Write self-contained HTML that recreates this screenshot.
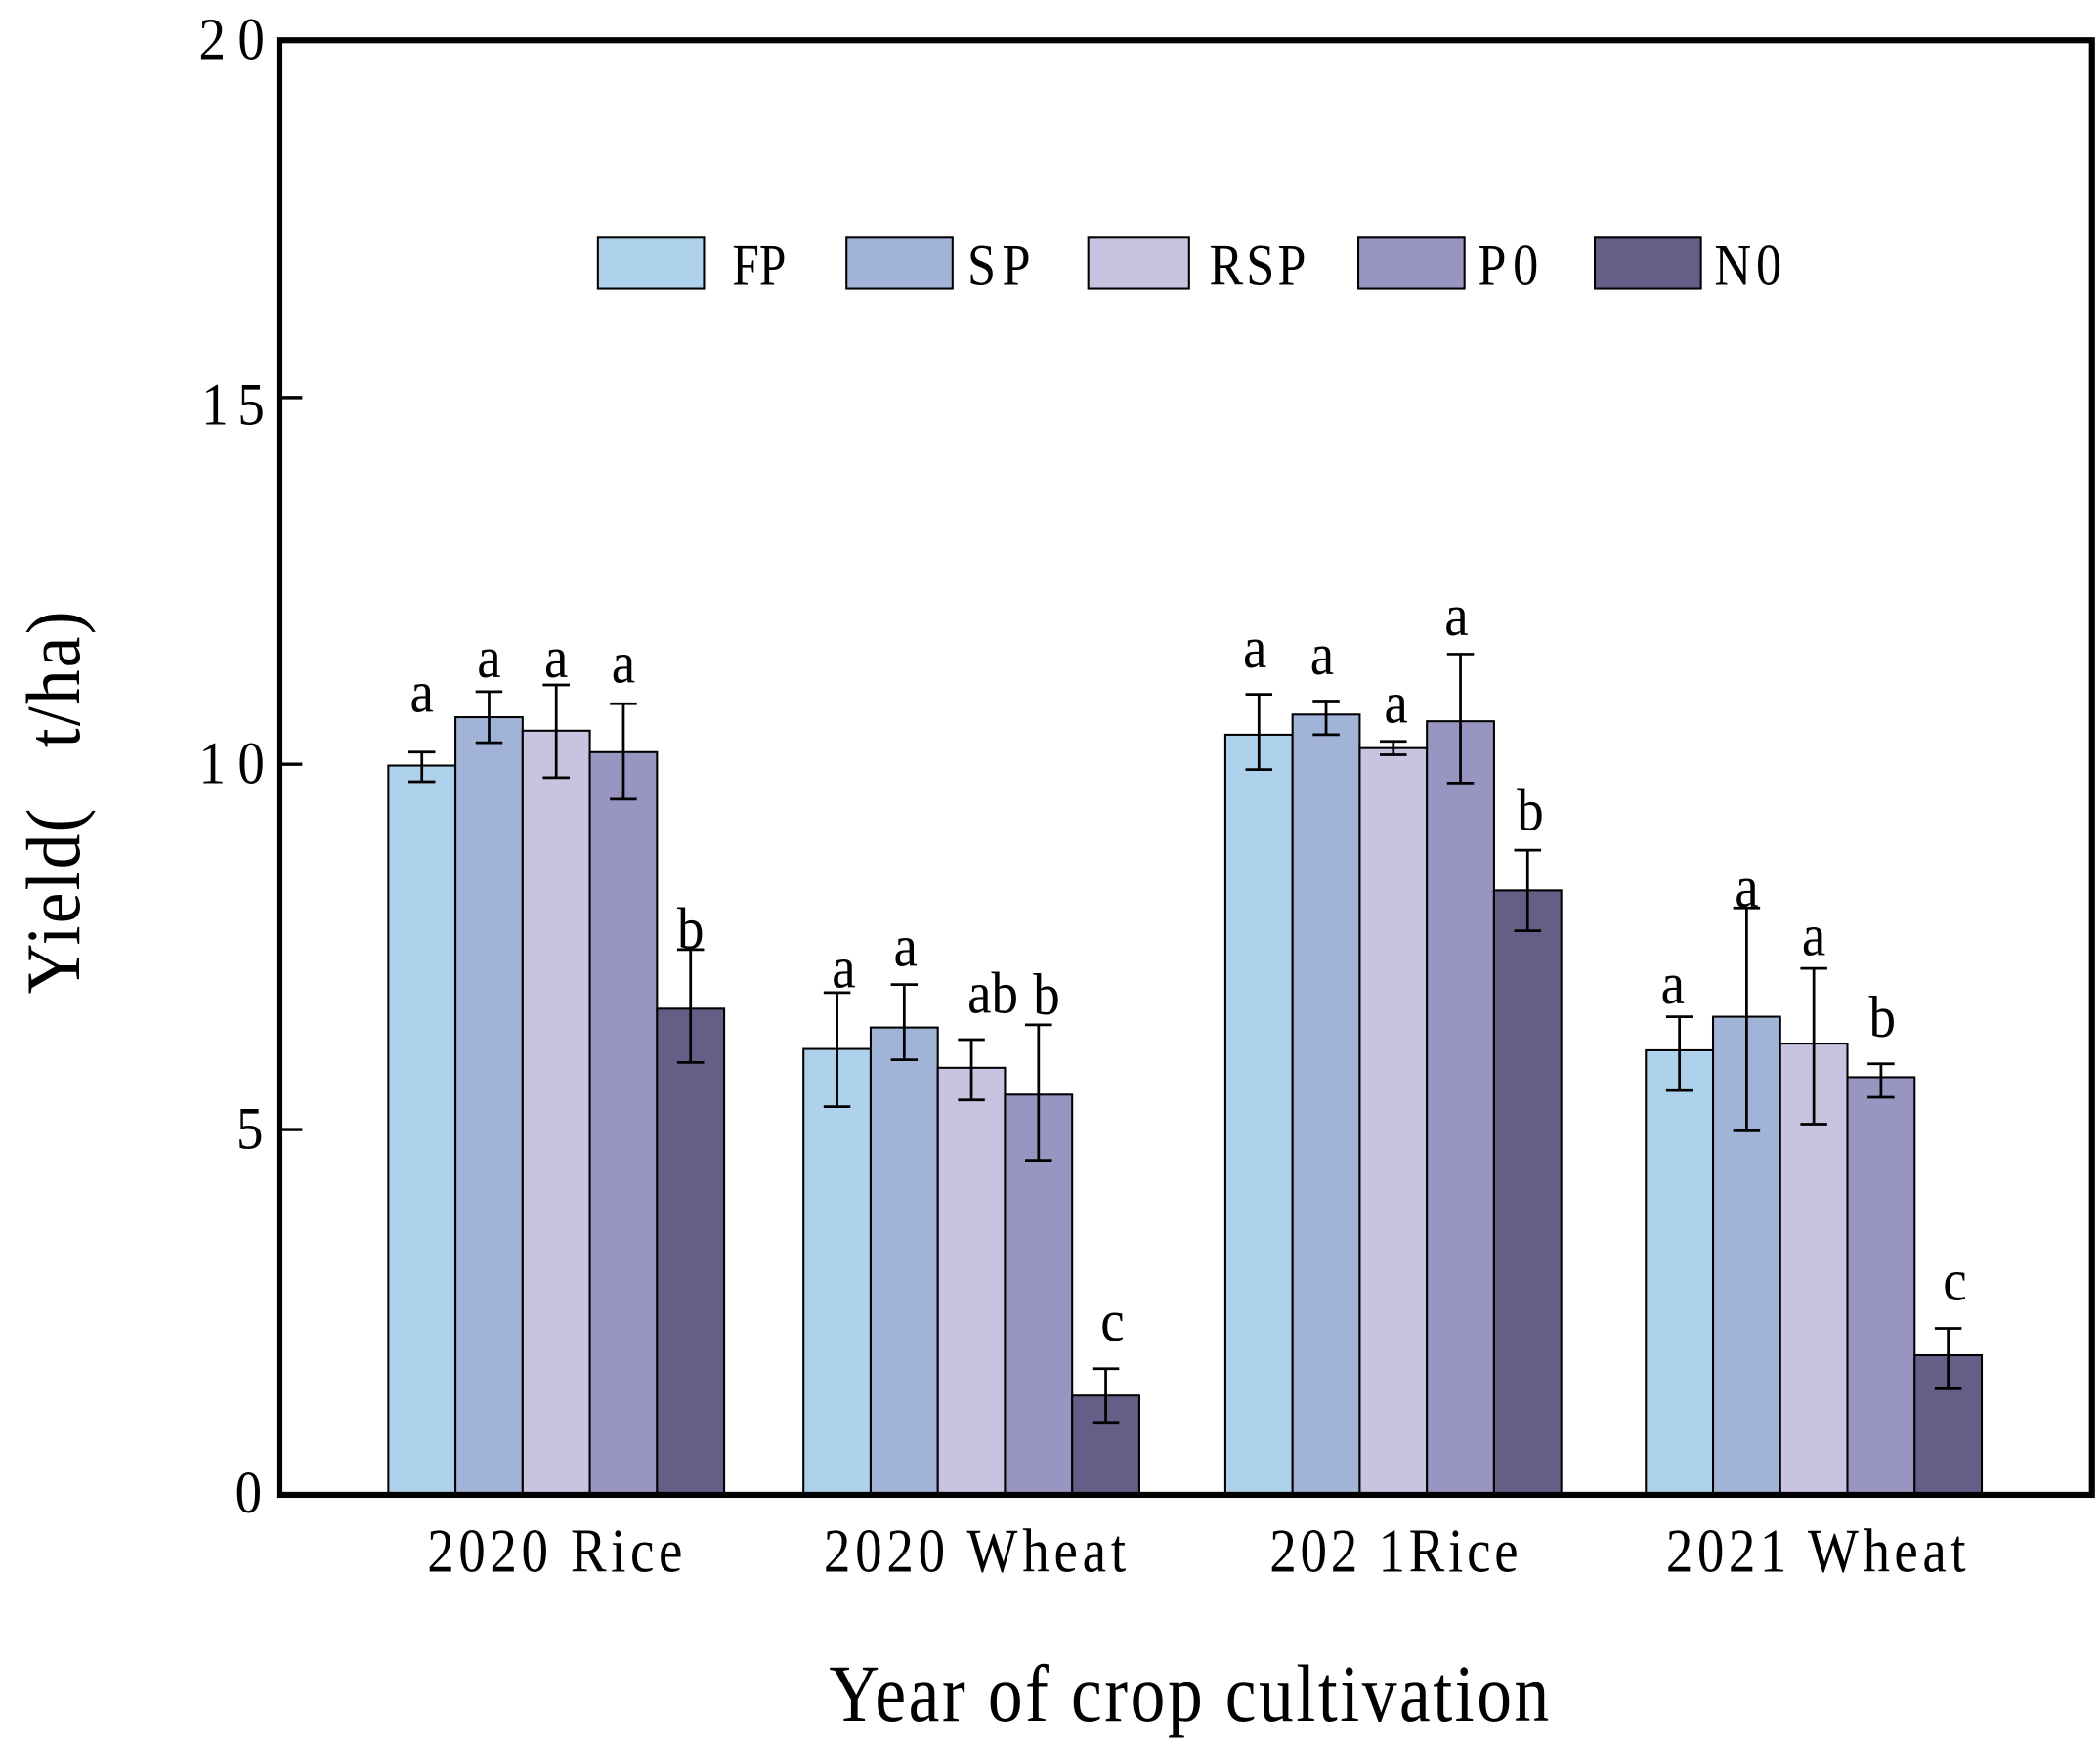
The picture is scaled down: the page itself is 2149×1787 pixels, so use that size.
<!DOCTYPE html>
<html><head><meta charset="utf-8"><style>
html,body{margin:0;padding:0;background:#fff;}
svg{display:block;}
text{font-family:"Liberation Serif","Times New Roman",serif;fill:#000;}
</style></head><body>
<svg xmlns="http://www.w3.org/2000/svg" width="2149" height="1787" viewBox="0 0 1563 1300" preserveAspectRatio="none">
<rect x="0" y="0" width="1563" height="1300" fill="#fff"/>
<!-- legend -->
<g stroke="#000" stroke-width="1.5">
<rect x="445" y="177" width="79" height="38" fill="#AFD2EC"/>
<rect x="630" y="177" width="79" height="38" fill="#A1B4D8"/>
<rect x="810" y="177" width="75" height="38" fill="#C7C3E0"/>
<rect x="1011" y="177" width="79" height="38" fill="#9896C0"/>
<rect x="1187" y="177" width="79" height="38" fill="#655F88"/>
</g>
<g font-size="38">
<text transform="translate(545,212) scale(1,1.15)" textLength="40" lengthAdjust="spacingAndGlyphs">FP</text>
<text transform="translate(720,212) scale(1,1.15)" textLength="47" lengthAdjust="spacing">SP</text>
<text transform="translate(900,212) scale(1,1.15)" textLength="72" lengthAdjust="spacing">RSP</text>
<text transform="translate(1100,212) scale(1,1.15)" textLength="45" lengthAdjust="spacing">P0</text>
<text transform="translate(1276,212) scale(1,1.15)" textLength="50" lengthAdjust="spacing">N0</text>
</g>
<!-- bars -->
<g stroke="#000" stroke-width="1.5">
<rect x="289" y="570" width="50" height="543" fill="#AFD2EC"/>
<rect x="339" y="534" width="50" height="579" fill="#A1B4D8"/>
<rect x="389" y="544" width="50" height="569" fill="#C7C3E0"/>
<rect x="439" y="560" width="50" height="553" fill="#9896C0"/>
<rect x="489" y="751" width="50" height="362" fill="#655F88"/>

<rect x="598" y="781" width="50" height="332" fill="#AFD2EC"/>
<rect x="648" y="765" width="50" height="348" fill="#A1B4D8"/>
<rect x="698" y="795" width="50" height="318" fill="#C7C3E0"/>
<rect x="748" y="815" width="50" height="298" fill="#9896C0"/>
<rect x="798" y="1039" width="50" height="74" fill="#655F88"/>

<rect x="912" y="547" width="50" height="566" fill="#AFD2EC"/>
<rect x="962" y="532" width="50" height="581" fill="#A1B4D8"/>
<rect x="1012" y="557" width="50" height="556" fill="#C7C3E0"/>
<rect x="1062" y="537" width="50" height="576" fill="#9896C0"/>
<rect x="1112" y="663" width="50" height="450" fill="#655F88"/>

<rect x="1225" y="782" width="50" height="331" fill="#AFD2EC"/>
<rect x="1275" y="757" width="50" height="356" fill="#A1B4D8"/>
<rect x="1325" y="777" width="50" height="336" fill="#C7C3E0"/>
<rect x="1375" y="802" width="50" height="311" fill="#9896C0"/>
<rect x="1425" y="1009" width="50" height="104" fill="#655F88"/>
</g>
<!-- error bars -->
<g stroke="#000" stroke-width="2" fill="none">
<path d="M314 560V582M304 560H324M304 582H324"/>
<path d="M364 515V553M354 515H374M354 553H374"/>
<path d="M414 510V579M404 510H424M404 579H424"/>
<path d="M464 524V595M454 524H474M454 595H474"/>
<path d="M514 707V791M504 707H524M504 791H524"/>

<path d="M623 739V824M613 739H633M613 824H633"/>
<path d="M673 733V789M663 733H683M663 789H683"/>
<path d="M723 774V819M713 774H733M713 819H733"/>
<path d="M773 763V864M763 763H783M763 864H783"/>
<path d="M823 1019V1059M813 1019H833M813 1059H833"/>

<path d="M937 517V573M927 517H947M927 573H947"/>
<path d="M987 522V547M977 522H997M977 547H997"/>
<path d="M1037 552V562M1027 552H1047M1027 562H1047"/>
<path d="M1087 487V583M1077 487H1097M1077 583H1097"/>
<path d="M1137 633V693M1127 633H1147M1127 693H1147"/>

<path d="M1250 757V812M1240 757H1260M1240 812H1260"/>
<path d="M1300 676V842M1290 676H1310M1290 842H1310"/>
<path d="M1350 721V837M1340 721H1360M1340 837H1360"/>
<path d="M1400 792V817M1390 792H1410M1390 817H1410"/>
<path d="M1450 989V1034M1440 989H1460M1440 1034H1460"/>
</g>
<!-- significance letters -->
<g font-size="40" text-anchor="middle">
<text transform="translate(314,530) scale(1,1.1)">a</text>
<text transform="translate(364,504) scale(1,1.1)">a</text>
<text transform="translate(414,504) scale(1,1.1)">a</text>
<text transform="translate(464,508) scale(1,1.1)">a</text>
<text transform="translate(514,706) scale(1,1.1)">b</text>

<text transform="translate(628,735) scale(1,1.1)">a</text>
<text transform="translate(674,719) scale(1,1.1)">a</text>
<text transform="translate(739,754) scale(1,1.1)">ab</text>
<text transform="translate(779,755) scale(1,1.1)">b</text>
<text transform="translate(828,998) scale(1,1.1)">c</text>

<text transform="translate(934,497) scale(1,1.1)">a</text>
<text transform="translate(984,502) scale(1,1.1)">a</text>
<text transform="translate(1039,538) scale(1,1.1)">a</text>
<text transform="translate(1084,473) scale(1,1.1)">a</text>
<text transform="translate(1139,618) scale(1,1.1)">b</text>

<text transform="translate(1245,747) scale(1,1.1)">a</text>
<text transform="translate(1300,675) scale(1,1.1)">a</text>
<text transform="translate(1350,711) scale(1,1.1)">a</text>
<text transform="translate(1401,772) scale(1,1.1)">b</text>
<text transform="translate(1455,968) scale(1,1.1)">c</text>
</g>
<!-- frame -->
<rect x="208" y="30" width="1349" height="1083" fill="none" stroke="#000" stroke-width="4.5"/>
<g stroke="#000" stroke-width="2.5">
<line x1="208" y1="296" x2="225" y2="296"/>
<line x1="208" y1="569" x2="225" y2="569"/>
<line x1="208" y1="841" x2="225" y2="841"/>
</g>
<!-- y tick labels -->
<g font-size="40">
<text transform="translate(148,44) scale(1,1.12)" textLength="49" lengthAdjust="spacing">20</text>
<text transform="translate(150,316) scale(1,1.12)" textLength="47" lengthAdjust="spacing">15</text>
<text transform="translate(148,583) scale(1,1.12)" textLength="49" lengthAdjust="spacing">10</text>
<text transform="translate(176,855) scale(1,1.12)">5</text>
<text transform="translate(175,1126) scale(1,1.12)">0</text>
</g>
<!-- category labels -->
<g font-size="40">
<text transform="translate(318,1170) scale(1,1.15)" textLength="190" lengthAdjust="spacing">2020 Rice</text>
<text transform="translate(613,1170) scale(1,1.15)" textLength="225" lengthAdjust="spacing">2020 Wheat</text>
<text transform="translate(945,1170) scale(1,1.15)" textLength="185" lengthAdjust="spacing">202 1Rice</text>
<text transform="translate(1240,1170) scale(1,1.15)" textLength="223" lengthAdjust="spacing">2021 Wheat</text>
</g>
<!-- axis titles -->
<text transform="translate(617,1281) scale(1,1.15)" font-size="52" textLength="536" lengthAdjust="spacing">Year of crop cultivation</text>
<text transform="translate(59,740) rotate(-90) scale(1,1.1)" font-size="52" textLength="285" lengthAdjust="spacing" xml:space="preserve">Yield(   t/ha)</text>
</svg>
</body></html>
